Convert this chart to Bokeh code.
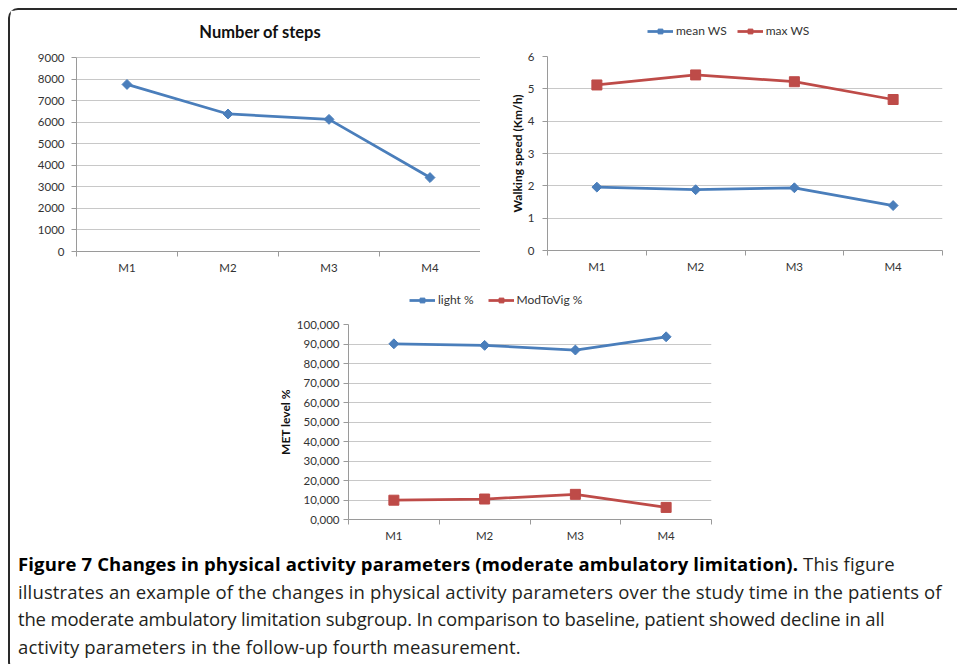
import numpy as np
from bokeh.plotting import figure
from bokeh.models import Range1d, FixedTicker, Legend, LegendItem, Label, Div
from bokeh.layouts import column, row
from bokeh.embed import file_html
from bokeh.resources import INLINE

# ---------------- data ----------------
categories = ["M1", "M2", "M3", "M4"]
steps = [7750, 6380, 6130, 3430]
mean_ws = [1.96, 1.88, 1.94, 1.39]
max_ws = [5.12, 5.43, 5.22, 4.67]
light_pct = [90.1, 89.3, 86.9, 93.7]
modtovig_pct = [9.9, 10.5, 12.9, 6.2]

steps_ticks = [0, 1000, 2000, 3000, 4000, 5000, 6000, 7000, 8000, 9000]
ws_ticks = [0, 1, 2, 3, 4, 5, 6]
met_ticks = [0, 10, 20, 30, 40, 50, 60, 70, 80, 90, 100]
met_tick_labels = ["0,000", "10,000", "20,000", "30,000", "40,000", "50,000",
                   "60,000", "70,000", "80,000", "90,000", "100,000"]

steps_title = "Number of steps"
ws_axis_label = "Walking speed (Km/h)"
met_axis_label = "MET level %"
ws_series = ["mean WS", "max WS"]
met_series = ["light %", "ModToVig %"]

caption_bold = "Figure 7 Changes in physical activity parameters (moderate ambulatory limitation)."
caption_lines = [
    " This figure",
    "illustrates an example of the changes in physical activity parameters over the study time in the patients of",
    "the moderate ambulatory limitation subgroup. In comparison to baseline, patient showed decline in all",
    "activity parameters in the follow-up fourth measurement.",
]

# ---------------- style ----------------
BLUE = "#4A7EBB"
RED = "#BE4B48"
GRID = "#C8C8C8"
AXIS = "#9A9A9A"
TXT = "#333333"
FONT = "Lato"

xs = [i + 0.5 for i in range(len(categories))]
bounds = list(range(len(categories) + 1))


def make_fig(width, height, mbl, mbr, mbt, mbb, data_px, extra_px, yticks, ystandoff):
    ymax = yticks[-1]
    yend = ymax * (data_px + extra_px) / data_px
    p = figure(width=width, height=height,
               x_range=Range1d(0, len(categories)), y_range=Range1d(0, yend),
               output_backend="svg", toolbar_location=None,
               min_border_left=mbl, min_border_right=mbr,
               min_border_top=mbt, min_border_bottom=mbb)
    p.outline_line_color = None
    p.background_fill_color = "white"
    p.border_fill_color = "white"
    xa = p.xaxis[0]
    xa.ticker = FixedTicker(ticks=xs, minor_ticks=bounds)
    xa.major_label_overrides = {x: c for x, c in zip(xs, categories)}
    xa.major_tick_line_color = None
    xa.major_tick_in = 0
    xa.major_tick_out = 0
    xa.minor_tick_in = 0
    xa.minor_tick_out = 5
    xa.minor_tick_line_color = AXIS
    xa.axis_line_color = AXIS
    xa.major_label_standoff = 4
    xa.major_label_text_font = FONT
    xa.major_label_text_font_size = "11.5px"
    xa.major_label_text_color = TXT
    ya = p.yaxis[0]
    ya.ticker = FixedTicker(ticks=yticks)
    ya.bounds = (0, ymax)
    ya.major_tick_in = 0
    ya.major_tick_out = 5
    ya.major_tick_line_color = AXIS
    ya.minor_tick_line_color = None
    ya.axis_line_color = AXIS
    ya.major_label_standoff = ystandoff
    ya.major_label_text_font = FONT
    ya.major_label_text_font_size = "11.5px"
    ya.major_label_text_color = TXT
    ya.axis_label_text_font = FONT
    ya.axis_label_text_font_size = "12px"
    ya.axis_label_text_font_style = "bold"
    ya.axis_label_text_color = "#111111"
    p.xgrid.visible = False
    p.ygrid.grid_line_color = GRID
    p.ygrid.grid_line_width = 1
    return p


def series(p, values, color, marker, size):
    ang = np.pi / 4 if marker == "diamond" else 0.0
    p.line(xs, values, line_color=color, line_width=2.75)
    p.scatter(xs, values, marker="square", angle=ang, size=size,
              fill_color=color, line_color=color)


def legend_fig(width, height, labels, colors, markers, sizes, loc, spacing):
    q = figure(width=width, height=height, x_range=Range1d(0, 1), y_range=Range1d(0, 1),
               output_backend="svg", toolbar_location=None,
               x_axis_location=None, y_axis_location=None,
               min_border_left=0, min_border_right=0, min_border_top=0, min_border_bottom=0)
    q.outline_line_color = None
    q.grid.visible = False
    q.background_fill_color = "white"
    q.border_fill_color = "white"
    items = []
    for lab, col, mk, sz in zip(labels, colors, markers, sizes):
        ang = np.pi / 4 if mk == "diamond" else 0.0
        lr = q.line([np.nan], [np.nan], line_color=col, line_width=2.75)
        sr = q.scatter([np.nan], [np.nan], marker="square", angle=ang, size=sz,
                       fill_color=col, line_color=col)
        items.append(LegendItem(label=lab, renderers=[lr, sr]))
    lg = Legend(items=items, orientation="horizontal", location=loc,
                padding=0, margin=0, spacing=spacing, label_standoff=3,
                glyph_width=26, glyph_height=12, label_height=14,
                label_text_font=FONT, label_text_font_size="12px",
                label_text_color=TXT, border_line_color=None,
                background_fill_alpha=0)
    q.add_layout(lg)
    return q


# -------- chart 1: number of steps --------
f1 = make_fig(470, 275, 66, 0, 6, 34, 194, 41, steps_ticks, 7)
series(f1, steps, BLUE, "diamond", 7)
f1.add_layout(Label(x=1.82, y=10206, text=steps_title, text_font=FONT,
                    text_font_size="16.5px", text_font_style="bold",
                    text_color="#111111", text_align="center", text_baseline="middle"))

# -------- chart 2: walking speed --------
# (frames of figures stacked in one column are aligned, so the legend
#  location is measured from the chart's frame left edge)
leg2 = legend_fig(470, 38, ws_series, [BLUE, RED], ["diamond", "square"], [5, 7.5], (100, 10), 10)
f2 = make_fig(470, 237, 67, 8, 8, 35, 194, 0, ws_ticks, 8)
f2.yaxis[0].axis_label = ws_axis_label
f2.yaxis[0].axis_label_standoff = 0
series(f2, mean_ws, BLUE, "diamond", 7)
series(f2, max_ws, RED, "square", 10)

# -------- chart 3: MET level --------
leg3 = legend_fig(940, 31, met_series, [BLUE, RED], ["diamond", "square"], [5, 7.5], (61, 9), 14)
f3 = make_fig(940, 229, 338, 239, 8, 26, 195, 0, met_ticks, 4)
f3.yaxis[0].major_label_overrides = {t: s for t, s in zip(met_ticks, met_tick_labels)}
f3.yaxis[0].axis_label = met_axis_label
f3.yaxis[0].axis_label_standoff = 1
series(f3, light_pct, BLUE, "diamond", 7)
series(f3, modtovig_pct, RED, "square", 10)

# -------- caption --------
html = ("<div style=\"font-family:'Open Sans',sans-serif;font-size:18.5px;line-height:27.7px;"
        "letter-spacing:0.14px;color:#231f20;white-space:nowrap;padding-left:3px;margin-top:0px;\">"
        "<b style='color:#000'>" + caption_bold + "</b>" + caption_lines[0] + "<br>"
        + caption_lines[1] + "<br>"
        + "<span style='letter-spacing:-0.17px'>" + caption_lines[2] + "</span><br>"
        + caption_lines[3] + "</div>")
cap = Div(text=html, width=940, height=115)

layout = column(row(f1, column(leg2, f2)), leg3, f3, cap, margin=(8, 0, 0, 8),
                styles={"border": "2px solid #2a2a2a", "border-right": "none",
                        "border-radius": "10px 0 0 10px"})

open("out.html", "w").write(file_html(layout, INLINE))
